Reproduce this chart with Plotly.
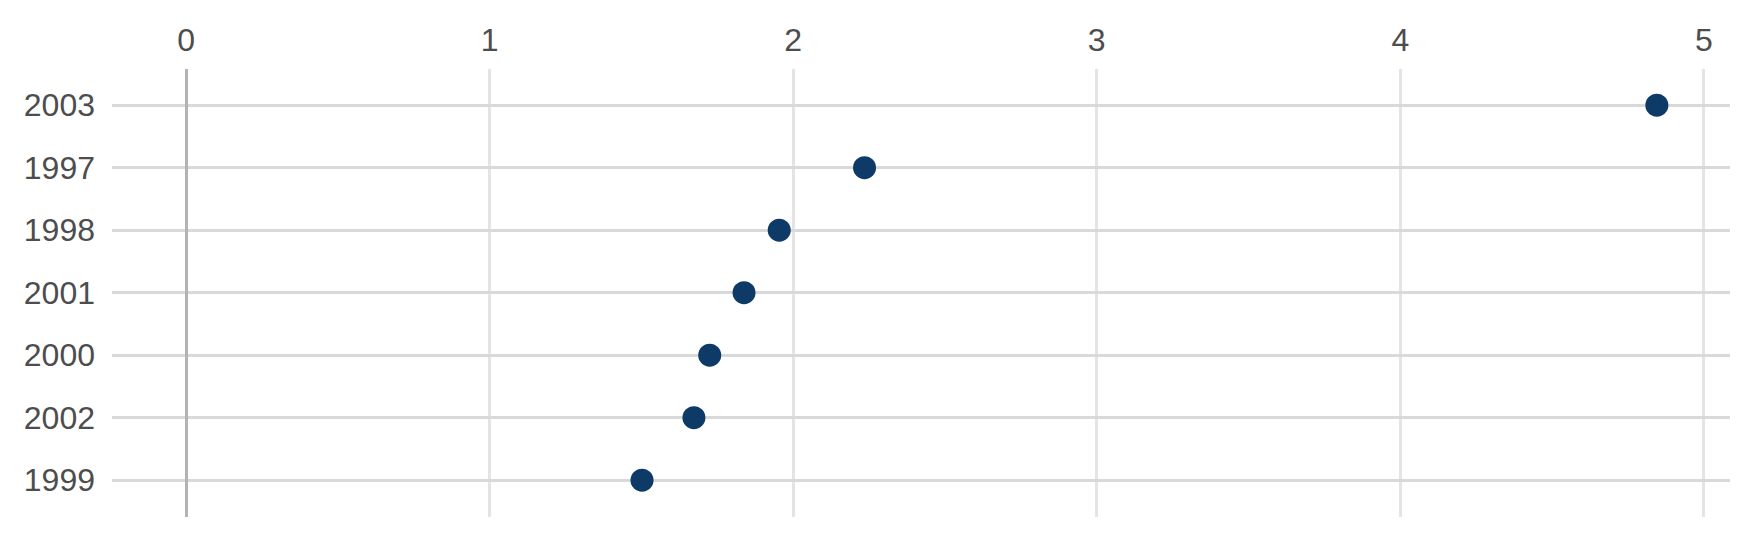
import plotly.graph_objects as go

# values
years = ["1999", "2002", "2000", "2001", "1998", "1997", "2003"]
values = [1.502, 1.673, 1.725, 1.838, 1.954, 2.235, 4.845]
x_ticks = [0, 1, 2, 3, 4, 5]

fig = go.Figure()

fig.add_trace(go.Scatter(
    x=values,
    y=years,
    mode="markers",
    marker=dict(size=23, color="#0d3a66", line=dict(width=0)),
    hoverinfo="x+y",
    showlegend=False,
))

# page body has an 8px default margin, so shift the plot area up/left by that
fig.update_layout(
    width=1750,
    height=538,
    margin=dict(l=104, r=28, t=61, b=29),
    paper_bgcolor="white",
    plot_bgcolor="white",
    font=dict(family="Arial, Liberation Sans, sans-serif", size=32, color="#4d4d4d"),
    xaxis=dict(
        side="top",
        range=[-0.244, 5.086],
        tickvals=x_ticks,
        ticktext=[str(t) for t in x_ticks],
        showgrid=True,
        gridcolor="#e4e4e4",
        gridwidth=3,
        zeroline=True,
        zerolinecolor="#b3b3b3",
        zerolinewidth=3,
        showline=False,
        ticks="",
        ticklabelstandoff=11,
    ),
    yaxis=dict(
        type="category",
        categoryorder="array",
        categoryarray=years,
        range=[-0.59, 6.58],
        showgrid=True,
        gridcolor="#d9d9d9",
        gridwidth=3,
        showline=False,
        ticks="",
        ticklabelstandoff=16,
    ),
)

fig.write_html("out.html")
